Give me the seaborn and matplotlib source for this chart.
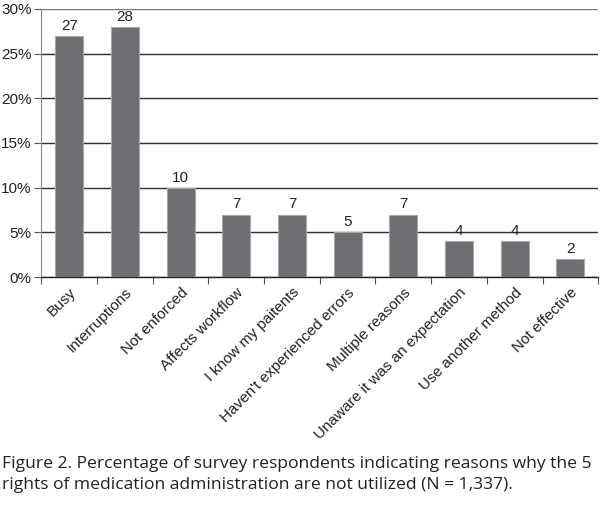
import numpy as np
import pandas as pd
import seaborn as sns
import matplotlib.pyplot as plt
from matplotlib.ticker import FixedLocator, PercentFormatter

# Data

reasons = ['Busy', 'Interruptions', 'Not enforced', 'Affects workflow', 'I know my paitents',
           "Haven't experienced errors", 'Multiple reasons', 'Unaware it was an expectation',
           'Use another method', 'Not effective']
percent = [27, 28, 10, 7, 7, 5, 7, 4, 4, 2]

caption = ['Figure 2. Percentage of survey respondents indicating reasons why the 5',
           'rights of medication administration are not utilized (N = 1,337).']

df = pd.DataFrame({'reason': reasons, 'percent': percent})

sns.set_style('white')
plt.rcParams['font.family'] = ['Liberation Sans', 'DejaVu Sans']

fig = plt.figure(figsize=(6, 5.2), dpi=100)
ax = fig.add_axes([0.069, 0.467, 0.928, 0.516])

sns.barplot(data=df, x='reason', y='percent', color='#6d6e71', width=0.5,
            edgecolor='#a7a8aa', linewidth=0.8, saturation=1, ax=ax, zorder=3)

for i, v in enumerate(percent):
    ax.text(i, v + 0.35, str(v), ha='center', va='bottom', fontsize=11, color='#222222', zorder=4)

ax.set_ylim(0, 30)
ax.set_xlim(-0.5, len(reasons) - 0.5)
ax.set_yticks(np.arange(0, 31, 5))
ax.yaxis.set_major_formatter(PercentFormatter(decimals=0))
ax.yaxis.grid(True, color='#2e2e2e', linewidth=1, zorder=0)
ax.get_ygridlines()[-1].set_color('#777777')
ax.set_xlabel('')
ax.set_ylabel('')

# ticks at the category boundaries
ax.xaxis.set_minor_locator(FixedLocator(np.arange(-0.5, len(reasons), 1)))
ax.tick_params(axis='x', which='minor', length=5, width=0.8, color='#555555', direction='out', bottom=True)
ax.tick_params(axis='x', which='major', length=0, pad=6)
ax.tick_params(axis='y', length=5, width=0.8, color='#555555', direction='out', left=True,
               labelsize=11, labelcolor='#222222', pad=2)
ax.set_xticks(range(len(reasons)))
ax.set_xticklabels(reasons, rotation=45, ha='right', rotation_mode='anchor', fontsize=11, color='#222222')

for side in ['top', 'right']:
    ax.spines[side].set_visible(False)
ax.spines['left'].set_color('#888888')
ax.spines['bottom'].set_color('#222222')
ax.spines['bottom'].set_linewidth(1)

fig.text(0.004, 1 - 468 / 520, caption[0], ha='left', va='baseline', fontsize=12.6,
         family=['Open Sans', 'DejaVu Sans'], color='#222222')
fig.text(0.004, 1 - 489 / 520, caption[1], ha='left', va='baseline', fontsize=12.6,
         family=['Open Sans', 'DejaVu Sans'], color='#222222')

fig.savefig('out.png', dpi=100)
